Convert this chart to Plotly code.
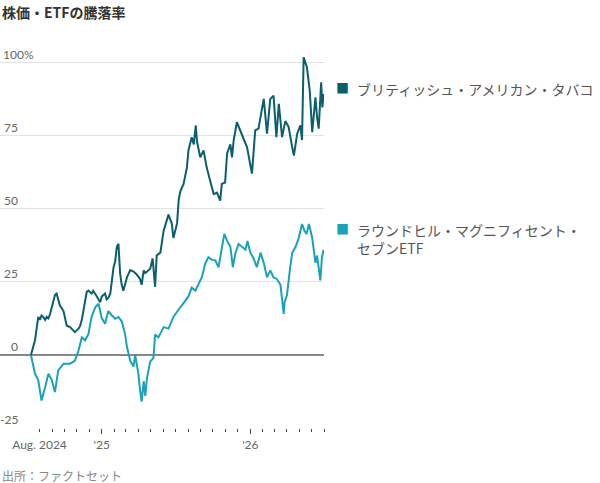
import plotly.graph_objects as go

# ---- data ----
bat_dates = [
    "2024-07-11", "2024-07-17", "2024-07-21", "2024-07-25", "2024-07-29", "2024-08-02", "2024-08-06",
    "2024-08-10", "2024-08-15", "2024-08-19", "2024-08-23", "2024-08-27", "2024-08-31", "2024-09-04",
    "2024-09-08", "2024-09-12", "2024-09-16", "2024-09-20", "2024-09-29", "2024-10-07", "2024-10-15",
    "2024-10-19", "2024-10-27", "2024-11-05", "2024-11-09", "2024-11-13", "2024-11-21", "2024-11-25",
    "2024-11-29", "2024-12-07", "2024-12-11", "2024-12-16", "2024-12-20", "2024-12-24", "2024-12-28",
    "2025-01-01", "2025-01-09", "2025-01-13", "2025-01-17", "2025-01-22", "2025-01-26", "2025-01-30",
    "2025-02-03", "2025-02-07", "2025-02-11", "2025-02-15", "2025-02-19", "2025-02-23", "2025-02-27",
    "2025-03-04", "2025-03-12", "2025-03-20", "2025-03-28", "2025-04-05", "2025-04-09", "2025-04-14",
    "2025-04-18", "2025-04-22", "2025-04-30", "2025-05-06", "2025-05-12", "2025-05-16", "2025-05-25",
    "2025-06-02", "2025-06-14", "2025-06-22", "2025-06-26", "2025-07-05", "2025-07-09", "2025-07-13",
    "2025-07-21", "2025-07-29", "2025-08-02", "2025-08-10", "2025-08-15", "2025-08-20", "2025-08-23",
    "2025-08-31", "2025-09-08", "2025-09-16", "2025-09-25", "2025-10-03", "2025-10-11", "2025-10-19",
    "2025-10-23", "2025-10-31", "2025-11-05", "2025-11-13", "2025-11-17", "2025-11-21", "2025-11-29",
    "2025-12-07", "2025-12-16", "2025-12-24", "2026-01-05", "2026-01-13", "2026-01-21", "2026-01-30",
    "2026-02-03", "2026-02-11", "2026-02-19", "2026-02-27", "2026-03-06", "2026-03-12", "2026-03-20",
    "2026-03-28", "2026-04-05", "2026-04-14", "2026-04-18", "2026-04-26", "2026-05-04", "2026-05-08",
    "2026-05-12", "2026-05-20", "2026-05-27", "2026-06-02", "2026-06-10", "2026-06-14", "2026-06-18",
    "2026-06-24", "2026-06-27", "2026-06-30",
]
bat_values = [
    0, 3, 5, 9, 13, 12, 13.5,
    13, 12, 13, 12.5, 14, 16, 18,
    20.5, 21, 19, 17, 15, 10, 9.5,
    9, 7.8, 9, 10, 12, 18, 21.5,
    22, 21, 21.9, 21, 20, 19, 18,
    20, 21, 19, 19.5, 21, 25, 30,
    32, 37, 38, 28, 24, 22, 24,
    26.6, 29, 28.5, 27.5, 26, 24, 28.9,
    28, 28.5, 29.5, 33, 23.3, 34, 35,
    42.5, 48, 45, 40, 45, 53, 56,
    58.5, 64, 70, 74.5, 72, 78.5, 73,
    67.6, 70, 64, 59.7, 55, 55.5, 52.8,
    58.5, 59, 69, 72, 67.6, 73.3, 79.6,
    76.8, 73.3, 71, 62, 76.8, 77.4, 83.6,
    87.6, 75.7, 87.6, 88.7, 74.5, 85.9, 74.5,
    80, 78, 71, 68.2, 75.6, 78.5, 73.5,
    101.8, 98.4, 90.4, 76.2, 88.1, 81.3, 77.4,
    93.3, 84.7, 89.3,
]

etf_dates = [
    "2024-07-11", "2024-07-21", "2024-07-29", "2024-08-06", "2024-08-15", "2024-08-23", "2024-08-31",
    "2024-09-08", "2024-09-16", "2024-09-29", "2024-10-15", "2024-10-27", "2024-11-05", "2024-11-13",
    "2024-11-21", "2024-11-29", "2024-12-07", "2024-12-16", "2024-12-24", "2025-01-01", "2025-01-09",
    "2025-01-17", "2025-01-26", "2025-02-03", "2025-02-11", "2025-02-19", "2025-02-27", "2025-03-04",
    "2025-03-12", "2025-03-20", "2025-03-24", "2025-04-01", "2025-04-05", "2025-04-09", "2025-04-14",
    "2025-04-18", "2025-04-22", "2025-04-30", "2025-05-08", "2025-05-12", "2025-05-20", "2025-06-02",
    "2025-06-14", "2025-06-26", "2025-07-13", "2025-07-25", "2025-08-02", "2025-08-10", "2025-08-19",
    "2025-08-27", "2025-09-04", "2025-09-12", "2025-09-20", "2025-09-29", "2025-10-07", "2025-10-15",
    "2025-10-23", "2025-10-29", "2025-11-05", "2025-11-13", "2025-11-19", "2025-11-25", "2025-12-03",
    "2025-12-11", "2025-12-20", "2025-12-25", "2026-01-01", "2026-01-09", "2026-01-17", "2026-01-26",
    "2026-02-03", "2026-02-11", "2026-02-19", "2026-02-27", "2026-03-07", "2026-03-16", "2026-03-24",
    "2026-03-26", "2026-04-01", "2026-04-09", "2026-04-14", "2026-04-22", "2026-04-30", "2026-05-08",
    "2026-05-14", "2026-05-19", "2026-05-25", "2026-06-02", "2026-06-06", "2026-06-10", "2026-06-14",
    "2026-06-18", "2026-06-22", "2026-06-26", "2026-06-30",
]
etf_values = [
    0, -6.4, -8.7, -15.6, -11, -6.4, -8.5,
    -12.7, -5.3, -3, -3, -2, 1.5, 6,
    5, 7, 13, 16.3, 17.5, 12.6, 10.7,
    15, 13.5, 12.4, 13, 11.5, 7.3, 2.7,
    -2, -4, 0, -6.4, -12, -16, -9,
    -14, -8, -2.3, -1, 7, 6, 9.5,
    9, 13, 16.3, 18.6, 20, 23, 22,
    24.3, 26.6, 31.2, 33.4, 32.5, 32.3, 30,
    36.9, 41.4, 39, 37, 30, 34.6, 38,
    37, 36, 39, 35, 33, 30, 35,
    31.5, 26.6, 28.9, 26.5, 26, 24, 14,
    18, 20.5, 30, 35, 36.9, 40, 44.8,
    42.5, 41.4, 44.8, 40, 35, 31.5, 34,
    30.4, 25.5, 33.5, 36,
]

series_names = ["ブリティッシュ・アメリカン・タバコ", "ラウンドヒル・マグニフィセント・<br>セブンETF"]
series_colors = ["#0b5f6b", "#1aa2b8"]

y_ticks = [-25, 0, 25, 50, 75, 100]
y_tick_text = ["-25", "0", "25", "50", "75", "100%"]

month_ticks = [
    "2024-08-01", "2024-09-01", "2024-10-01", "2024-11-01", "2024-12-01",
    "2025-01-01", "2025-02-01", "2025-03-01", "2025-04-01", "2025-05-01", "2025-06-01",
    "2025-07-01", "2025-08-01", "2025-09-01", "2025-10-01", "2025-11-01", "2025-12-01",
    "2026-01-01", "2026-02-01", "2026-03-01", "2026-04-01", "2026-05-01", "2026-06-01", "2026-07-01",
]
month_tick_text = ["Aug. 2024", "", "", "", "",
                   "'25", "", "", "", "", "",
                   "", "", "", "", "", "",
                   "'26", "", "", "", "", "", ""]
year_ticks = ["2025-01-01", "2026-01-01"]
x_range = ["2024-04-26", "2026-07-01"]

title = "株価・ETFの騰落率"
source = "出所：ファクトセット"

FONT = "Lato, 'Noto Sans CJK JP', sans-serif"
CJK = "'Noto Sans CJK JP', Lato, sans-serif"

fig = go.Figure()
fig.add_trace(go.Scatter(x=etf_dates, y=etf_values, mode="lines",
                         line=dict(color=series_colors[1], width=2), showlegend=False))
fig.add_trace(go.Scatter(x=bat_dates, y=bat_values, mode="lines",
                         line=dict(color=series_colors[0], width=2), showlegend=False))
# carrier for the longer year-tick axis
fig.add_trace(go.Scatter(x=year_ticks, y=[-30, -30], xaxis="x2", mode="lines",
                         line=dict(width=0), showlegend=False, hoverinfo="skip"))

fig.update_layout(
    width=600, height=483,
    margin=dict(l=0, r=276, t=48, b=55),
    paper_bgcolor="white", plot_bgcolor="white",
    font=dict(family=FONT, size=12, color="#666"),
    xaxis=dict(
        type="date", range=x_range,
        showgrid=False, zeroline=False, showline=False,
        tickmode="array", tickvals=month_ticks, ticktext=month_tick_text,
        ticks="outside", ticklen=3, tickcolor="#444", tickwidth=1,
        tickfont=dict(family=FONT, size=12, color="#666"),
        ticklabelstandoff=3,
    ),
    xaxis2=dict(
        type="date", range=x_range, overlaying="x", anchor="y", side="bottom",
        showgrid=False, zeroline=False, showline=False, showticklabels=False,
        tickmode="array", tickvals=year_ticks,
        ticks="outside", ticklen=5, tickcolor="#444", tickwidth=1,
    ),
    yaxis=dict(
        range=[-25, 105], tickmode="array", tickvals=y_ticks,
        showticklabels=False, showgrid=True, gridcolor="#e3e3e3", gridwidth=1,
        zeroline=True, zerolinecolor="#888", zerolinewidth=1.5, showline=False,
    ),
)

annotations = []
for v, t in zip(y_ticks, y_tick_text):
    if t.endswith("%"):
        annotations.append(dict(x=0, xref="paper", y=v, yref="y", text=t, showarrow=False,
                                xanchor="left", yanchor="bottom", xshift=1, yshift=-1,
                                font=dict(family=FONT, size=12, color="#666")))
    else:
        annotations.append(dict(x=0, xref="paper", y=v, yref="y", text=t, showarrow=False,
                                xanchor="right", yanchor="bottom", xshift=20, yshift=-1,
                                font=dict(family=FONT, size=12, color="#666")))

annotations.append(dict(x=0, xref="paper", y=1, yref="paper", text=f"<b>{title}</b>",
                        showarrow=False, xanchor="left", yanchor="middle", xshift=0,
                        yshift=48 - 12, font=dict(family=CJK, size=14, color="#333")))
annotations.append(dict(x=0, xref="paper", y=0, yref="paper", text=source,
                        showarrow=False, xanchor="left", yanchor="middle",
                        yshift=-(475 - 428), font=dict(family=CJK, size=12, color="#888")))

# legend labels
legend_y = [87, 228]
for name, col, ly in zip(series_names, series_colors, legend_y):
    annotations.append(dict(x=1, xref="paper", y=1, yref="paper",
                            text=f"<span style='color:{col}'>■</span>",
                            showarrow=False, xanchor="left", yanchor="middle",
                            xshift=10, yshift=48 - ly, font=dict(family=CJK, size=13)))
    annotations.append(dict(x=1, xref="paper", y=1, yref="paper", text=name, align="left",
                            showarrow=False, xanchor="left", yanchor="top",
                            xshift=31, yshift=48 - ly + 10,
                            font=dict(family=CJK, size=14, color="#555")))

fig.update_layout(annotations=annotations)
fig.write_html("out.html")
